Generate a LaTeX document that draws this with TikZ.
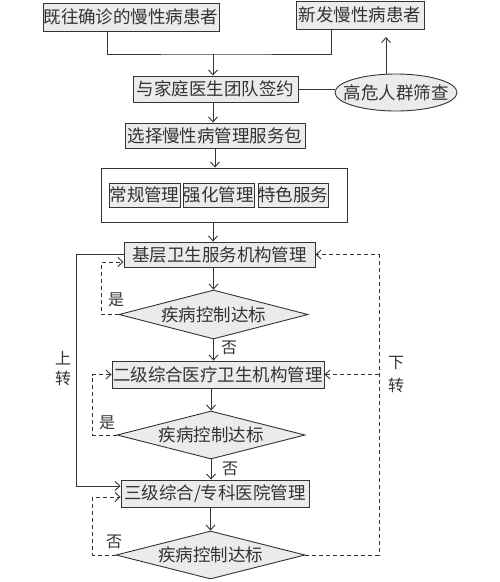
\documentclass[tikz,border=0pt]{standalone}
\usepackage{fontspec}
\newfontfamily\cjk{Noto Sans CJK SC}
\usetikzlibrary{shapes.geometric,arrows.meta,calc}
\definecolor{ln}{HTML}{333333}
\definecolor{fl}{HTML}{EBEBEB}
\begin{document}
\begin{tikzpicture}[x=1pt,y=-1pt,
  font=\cjk\fontsize{17.5}{20}\selectfont,
  every node/.style={text=ln},
  box/.style={draw=ln,fill=fl,line width=0.9pt,inner sep=0pt,align=center},
  dia/.style={draw=ln,fill=fl,line width=0.9pt,diamond,shape aspect=3.86,inner sep=0pt,minimum width=189pt,minimum height=49pt},
  lbl/.style={font=\cjk\fontsize{16}{18}\selectfont,inner sep=0pt},
  conn/.style={draw=ln,line width=0.9pt,-{Straight Barb[length=5pt,width=9pt]}},
  plain/.style={draw=ln,line width=0.9pt},
  dconn/.style={conn,dash pattern=on 4pt off 3pt}]
\useasboundingbox (0,0) rectangle (500,582);
% nodes
\node[box,minimum width=176pt,minimum height=28pt] (b1) at (131,17) {既往确诊的慢性病患者};
\node[box,minimum width=128pt,minimum height=28pt] (b2) at (360,15) {新发慢性病患者};
\node[box,minimum width=165pt,minimum height=26pt] (b3) at (215.5,89) {与家庭医生团队签约};
\node[box,ellipse,inner xsep=-10pt,inner ysep=0pt,minimum width=122pt,minimum height=37pt] (ell) at (396,92.5) {高危人群筛查};
\node[box,minimum width=180pt,minimum height=25pt] (b4) at (215,135.5) {选择慢性病管理服务包};
\node[draw=ln,fill=white,line width=0.9pt,minimum width=246pt,minimum height=54pt,inner sep=0pt] (outer) at (224,195) {};
\node[box,minimum width=71pt,minimum height=24pt] (i1) at (144.5,195) {常规管理};
\node[box,minimum width=71pt,minimum height=24pt] (i2) at (218.5,195) {强化管理};
\node[box,minimum width=70pt,minimum height=24pt] (i3) at (293,195) {特色服务};
\node[box,minimum width=191pt,minimum height=25pt] (b5) at (219.5,254.5) {基层卫生服务机构管理};
\node[dia] (d1) at (213.5,314.5) {疾病控制达标};
\node[box,minimum width=212pt,minimum height=27pt] (b6) at (218,374.5) {二级综合医疗卫生机构管理};
\node[dia,minimum height=48pt,minimum width=188pt] (d2) at (211,435) {疾病控制达标};
\node[box,minimum width=188pt,minimum height=27pt] (b7) at (215,493.5) {三级综合/专科医院管理};
\node[dia,minimum height=48pt] (d3) at (210.5,555) {疾病控制达标};
% labels
\node[lbl] (l1) at (116,300) {是};
\node[lbl] (l2) at (229,348) {否};
\node[lbl] (l3) at (107,423) {是};
\node[lbl] (l4) at (230,469) {否};
\node[lbl] (l5) at (114,542) {否};
\node[lbl] (l6) at (63,358) {上};
\node[lbl] (l7) at (63,378) {转};
\node[lbl] (l8) at (396,363) {下};
\node[lbl] (l9) at (396,385) {转};
% coordinates
\coordinate (jm) at (213,54);
\coordinate (upend) at (386,37);
\coordinate (xr) at (379,254.5);
% connectors
\draw[plain] ([xshift=-24pt]b1.south) |- (jm) -| ([xshift=-29pt]b2.south);
\draw[conn] (jm) -- (b3.north -| jm);
\draw[plain] (b3.east) -- (b3.east -| ell.west);
\draw[conn] (ell.north -| upend) -- (upend);
\draw[conn] (b3.south -| jm) -- (b4.north -| jm);
\draw[conn] (b4.south) -- (b4.south |- outer.north);
\draw[conn] (outer.south -| jm) -- (b5.north -| jm);
\draw[conn] (b5.south -| d1.north) -- (d1.north);
\draw[conn] (d1.south) -- (d1.south |- b6.north);
\draw[conn] (b6.south -| d2.north) -- (d2.north);
\draw[conn] (d2.south) -- (d2.south |- b7.north);
\draw[conn] (b7.south -| d3.north) -- (d3.north);
% feedback
\draw[dconn] (d1.west) -- ++(-17,0) |- ($(b5.west)+(0,7.5)$);
\draw[dconn] (d2.west) -- ++(-24,0) |- (b6.west);
\draw[dconn] (d3.west) -- ++(-23,0) |- ($(b7.west)+(0,3.5)$);
\draw[conn] (b5.west) -- ++(-47,0) |- ($(b7.west)+(0,-7.5)$);
\draw[dconn] (d3.east) -| (xr) -- (b5.east);
\draw[dconn] (xr |- b6.east) -- (b6.east);
\end{tikzpicture}
\end{document}
